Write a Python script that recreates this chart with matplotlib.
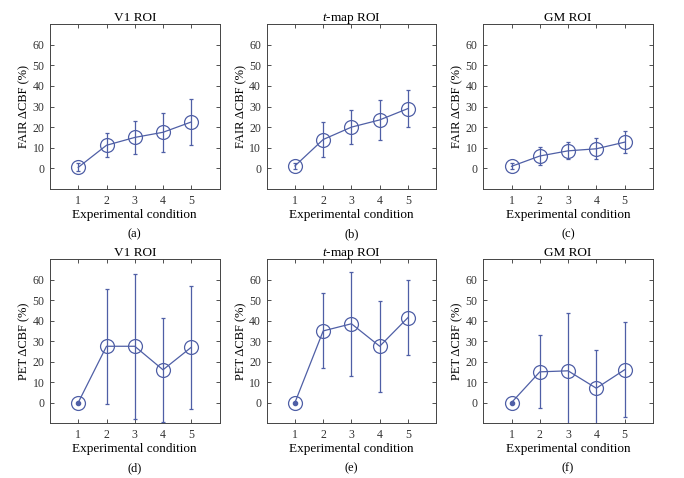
import matplotlib
matplotlib.use("Agg")
import matplotlib.pyplot as plt
import numpy as np

plt.rcParams['font.family'] = ['Liberation Serif', 'DejaVu Serif']
plt.rcParams['mathtext.fontset'] = 'custom'
plt.rcParams['mathtext.it'] = 'Liberation Serif:italic'
plt.rcParams['mathtext.rm'] = 'Liberation Serif'

# du lieu doc tu hinh
conditions = [1, 2, 3, 4, 5]
titles = ["V1 ROI", "$t$-map ROI", "GM ROI"]
captions = ["(a)", "(b)", "(c)", "(d)", "(e)", "(f)"]

fair_v1 = [0.5, 11.2, 15.0, 17.5, 22.5]
fair_v1_err = [2.0, 5.8, 8.0, 9.5, 11.3]
fair_tmap = [1.2, 14.0, 20.0, 23.5, 29.0]
fair_tmap_err = [1.5, 8.7, 8.4, 9.5, 9.0]
fair_gm = [1.0, 6.0, 8.5, 9.5, 12.7]
fair_gm_err = [1.5, 4.3, 4.1, 5.0, 5.2]

pet_v1 = [0.0, 27.5, 27.5, 16.0, 27.0]
pet_v1_err = [0.0, 28.0, 35.5, 25.3, 30.0]
pet_tmap = [0.0, 35.0, 38.5, 27.5, 41.5]
pet_tmap_err = [0.0, 18.3, 25.5, 22.3, 18.5]
pet_gm = [0.0, 15.0, 15.5, 7.0, 16.0]
pet_gm_err = [0.0, 17.8, 28.5, 18.5, 23.3]

fair_data = [(fair_v1, fair_v1_err), (fair_tmap, fair_tmap_err), (fair_gm, fair_gm_err)]
pet_data = [(pet_v1, pet_v1_err), (pet_tmap, pet_tmap_err), (pet_gm, pet_gm_err)]

color = '#4f5fa6'
W, H = 684, 478
fig = plt.figure(figsize=(W / 100, H / 100), dpi=100)

lefts = [50, 266.7, 483.3]
axw = 169.5
rows = [(24, 189, "FAIR \u0394CBF (%)", fair_data), (259.3, 423, "PET \u0394CBF (%)", pet_data)]

k = 0
for r, (top, bot, ylab, data) in enumerate(rows):
    for c in range(3):
        ax = fig.add_axes([lefts[c] / W, 1 - bot / H, axw / W, (bot - top) / H])
        y, e = data[c]
        ax.errorbar(conditions, y, yerr=e, color=color, lw=0.9, elinewidth=0.9,
                    capsize=1.5, capthick=0.9, marker='o', ms=10, mfc='none',
                    mec=color, mew=0.9, zorder=3)
        if r == 1:
            ax.plot(conditions[0], y[0], 'o', color=color, ms=3, zorder=4)
        ax.set_xlim(0, 6)
        ax.set_ylim(-10, 70)
        ax.set_xticks(conditions)
        ax.set_yticks(np.arange(0, 61, 10))
        ax.tick_params(direction='in', top=True, right=True, labelsize=8.5,
                       length=3, width=0.6, colors='#333333', pad=4)
        for sp in ax.spines.values():
            sp.set_linewidth(0.7)
            sp.set_color('#444444')
        ax.set_title(titles[c], fontsize=9.5, pad=2.5)
        ax.set_xlabel("Experimental condition", fontsize=9.5, labelpad=2)
        ax.set_ylabel(ylab, fontsize=9, labelpad=1.5)
        cap_y = 1 - (bot + 45) / H
        fig.text((lefts[c] + axw / 2) / W, cap_y, captions[k], ha='center',
                 va='center', fontsize=9)
        k += 1

fig.savefig("out.png", dpi=100)
